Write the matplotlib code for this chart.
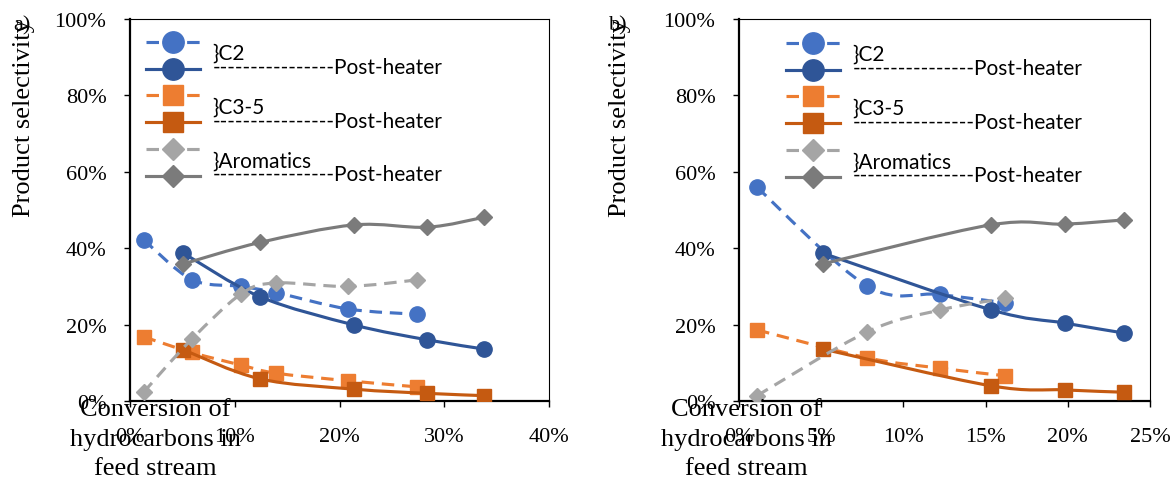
import matplotlib.pyplot as plt
from matplotlib.path import Path
from matplotlib.patches import PathPatch
from matplotlib.lines import Line2D

# Data, panel a) (conversion % -> selectivity %)
a_pre_x = [1.3, 5.9, 10.6, 13.9, 20.8, 27.4]
a_post_x = [5.1, 12.4, 21.4, 28.4, 33.8]
a_c2_pre = [42.2, 31.8, 30.0, 28.4, 24.1, 22.7]
a_c2_post = [38.7, 27.3, 19.9, 16.0, 13.6]
a_c35_pre = [16.8, 12.7, 9.4, 7.3, 5.3, 3.7]
a_c35_post = [13.4, 5.8, 3.1, 2.0, 1.4]
a_arom_pre = [2.3, 16.2, 28.0, 30.9, 30.0, 31.7]
a_arom_post = [35.9, 41.5, 46.1, 45.5, 48.1]
a_xticks = [0, 10, 20, 30, 40]

# Data, panel b)
b_pre_x = [1.1, 7.8, 12.2, 16.2]
b_post_x = [5.1, 15.3, 19.8, 23.4]
b_c2_pre = [55.9, 30.1, 27.9, 25.7]
b_c2_post = [38.7, 23.9, 20.4, 17.8]
b_c35_pre = [18.6, 11.3, 8.6, 6.6]
b_c35_post = [13.6, 4.0, 2.9, 2.3]
b_arom_pre = [1.4, 18.1, 23.8, 26.9]
b_arom_post = [35.9, 46.1, 46.3, 47.4]
b_xticks = [0, 5, 10, 15, 20, 25]

yticks = [0, 20, 40, 60, 80, 100]
labels = ['}C2', '----------------Post-heater',
          '}C3-5', '----------------Post-heater',
          '}Aromatics', '----------------Post-heater']

colors = ['#4472C4', '#2F5597', '#ED7D31', '#C55A11', '#A5A5A5', '#7B7B7B']
markers = ['o', 'o', 's', 's', 'D', 'D']
msizes = [11, 11, 10, 10, 7.8, 7.8]
DASH = (0, (4, 2.5))

plt.rcParams['font.family'] = 'Liberation Serif'


# Excel-like smoothed line (catmull-rom -> bezier)
def smooth_path(xs, ys):
    pts = list(zip(xs, ys))
    verts = [pts[0]]
    codes = [Path.MOVETO]
    for i in range(len(pts) - 1):
        p0 = pts[i - 1] if i > 0 else pts[i]
        p1 = pts[i]
        p2 = pts[i + 1]
        p3 = pts[i + 2] if i + 2 < len(pts) else pts[i + 1]
        c1 = (p1[0] + (p2[0] - p0[0]) / 6, p1[1] + (p2[1] - p0[1]) / 6)
        c2 = (p2[0] - (p3[0] - p1[0]) / 6, p2[1] - (p3[1] - p1[1]) / 6)
        verts += [c1, c2, p2]
        codes += [Path.CURVE4] * 3
    return Path(verts, codes)


def draw_panel(ax, pre_x, post_x, series, xticks, leg_xy):
    for i, ys in enumerate(series):
        xs = pre_x if i % 2 == 0 else post_x
        ls = DASH if i % 2 == 0 else '-'
        ax.add_patch(PathPatch(smooth_path(xs, ys), fill=False, edgecolor=colors[i],
                               lw=2.25, linestyle=ls, zorder=2 + i))
        ax.plot(xs, ys, linestyle='none', marker=markers[i], ms=msizes[i],
                color=colors[i], zorder=2 + i)

    ax.set_xlim(xticks[0], xticks[-1])
    ax.set_ylim(0, 100)
    ax.set_xticks(xticks)
    ax.set_xticklabels([f'{t}%' for t in xticks])
    ax.set_yticks(yticks)
    ax.set_yticklabels([f'{t}%' for t in yticks])
    ax.tick_params(axis='x', direction='out', length=4, width=1, labelsize=16, pad=15)
    ax.tick_params(axis='y', direction='out', length=4, width=1, labelsize=16, pad=13)
    for side in ['left', 'bottom']:
        ax.spines[side].set_linewidth(1.6)
    for side in ['top', 'right']:
        ax.spines[side].set_linewidth(0.8)

    handles = []
    for i in range(6):
        handles.append(Line2D([], [], color=colors[i], lw=2.25,
                              linestyle=DASH if i % 2 == 0 else '-',
                              marker=markers[i], ms=msizes[i]))
    leg = ax.legend(handles, labels, loc='upper left', bbox_to_anchor=leg_xy,
                    bbox_transform=fig.transFigure, frameon=False,
                    prop={'family': 'Lato', 'size': 15}, handlelength=2.6,
                    handletextpad=0.6, markerscale=1.4, labelspacing=0.33,
                    borderpad=0, borderaxespad=0)
    # label text in the original is shifted off the marker rows
    for j, t in enumerate(leg.get_texts()):
        t.set_y(-10 if j % 2 == 0 else 3)


fig = plt.figure(figsize=(11.75, 4.81), dpi=100)
W, H = 1175, 481
ax_a = fig.add_axes([130 / W, 1 - 402 / H, 419 / W, 382 / H])
ax_b = fig.add_axes([739 / W, 1 - 402 / H, 411 / W, 382 / H])

draw_panel(ax_a, a_pre_x, a_post_x,
           [a_c2_pre, a_c2_post, a_c35_pre, a_c35_post, a_arom_pre, a_arom_post],
           a_xticks, (146 / W, 1 - 34 / H))
draw_panel(ax_b, b_pre_x, b_post_x,
           [b_c2_pre, b_c2_post, b_c35_pre, b_c35_post, b_arom_pre, b_arom_post],
           b_xticks, (786 / W, 1 - 35 / H))

# axis titles placed like the original (overlapping the ticks)
for cx, lx, tag in [(24, 155, 'a)'), (620, 746, 'b)')]:
    fig.text(cx / W, 1 - 217 / H, 'Product selectivity', rotation=90,
             ha='center', va='bottom', fontsize=19)
    fig.text(lx / W, 1 - 399 / H, 'Conversion of\nhydrocarbons in\nfeed stream',
             ha='center', va='top', fontsize=19, linespacing=1.45)
    fig.text((cx - 11) / W, 1 - 30 / H, tag, fontsize=16, va='baseline')

fig.savefig('out.png', dpi=100)
